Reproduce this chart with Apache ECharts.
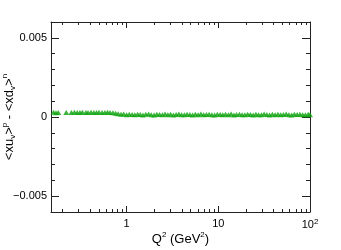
<!DOCTYPE html>
<html>
<head>
    <meta charset="utf-8">
    <title></title>
    <style type="text/css">
        html,
        body {
            height: 100%;
        }

        body {
            margin: 0;
            padding: 0;
            background: #fff;
        }

        #main {
            width: 341px;
            height: 250px;
        }
    </style>
</head>

<body>
    <div id="main"></div>
    <script src="https://cdn.jsdelivr.net/npm/echarts@6/dist/echarts.min.js"></script>
    <script type="text/javascript">
        // Q^2 (GeV^2) of each point
        var q2 = [
            0.16, 0.17, 0.18, 0.22, 0.25, 0.27, 0.29, 0.31, 0.33, 0.36,
            0.38, 0.41, 0.44, 0.47, 0.5, 0.54, 0.58, 0.62, 0.66, 0.71,
            0.76, 0.81, 0.87, 0.93, 1.0, 1.07, 1.15, 1.23, 1.32, 1.41,
            1.51, 1.62, 1.74, 1.86, 2.0, 2.14, 2.29, 2.46, 2.63, 2.82,
            3.02, 3.24, 3.47, 3.72, 3.98, 4.27, 4.57, 4.9, 5.25, 5.62,
            6.03, 6.46, 6.92, 7.41, 7.94, 8.51, 9.12, 9.77, 10.5, 11.2,
            12.0, 12.9, 13.8, 14.8, 15.8, 17.0, 18.2, 19.5, 20.9, 22.4,
            24.0, 25.7, 27.5, 29.5, 31.6, 33.9, 36.3, 38.9, 41.7, 44.7,
            47.9, 51.3, 55.0, 58.9, 63.1, 67.6, 72.4, 77.6, 83.2, 89.1,
            95.5, 100
        ];
        // <xu_v>^p - <xd_v>^n
        var diff = [
            0.00030, 0.00027, 0.00029, 0.00028, 0.00029, 0.00030, 0.00028, 0.00029, 0.00030, 0.00028,
            0.00029, 0.00030, 0.00028, 0.00029, 0.00030, 0.00028, 0.00029, 0.00030, 0.00028, 0.00027,
            0.00024, 0.00020, 0.00017, 0.00019, 0.00015, 0.00018, 0.00016, 0.00014, 0.00018, 0.00016,
            0.00013, 0.00017, 0.00019, 0.00015, 0.00013, 0.00018, 0.00016, 0.00014, 0.00019, 0.00015,
            0.00017, 0.00013, 0.00016, 0.00019, 0.00015, 0.00014, 0.00018, 0.00016, 0.00013, 0.00017,
            0.00015, 0.00019, 0.00014, 0.00016, 0.00018, 0.00015, 0.00013, 0.00017, 0.00016, 0.00014,
            0.00018, 0.00015, 0.00019, 0.00013, 0.00016, 0.00018, 0.00015, 0.00014, 0.00017, 0.00016,
            0.00013, 0.00018, 0.00015, 0.00014, 0.00019, 0.00016, 0.00013, 0.00017, 0.00015, 0.00018,
            0.00014, 0.00016, 0.00019, 0.00015, 0.00013, 0.00017, 0.00016, 0.00018, 0.00014, 0.00015,
            0.00017, 0.00015
        ];
        // axis ticks
        var xMajor = [1, 10, 100];
        var xMinor = [0.2, 0.3, 0.4, 0.5, 0.6, 0.7, 0.8, 0.9,
            2, 3, 4, 5, 6, 7, 8, 9,
            20, 30, 40, 50, 60, 70, 80, 90];
        var yMajor = [-0.005, 0, 0.005];
        var yMinor = [-0.004, -0.003, -0.002, -0.001, 0.001, 0.002, 0.003, 0.004];

        var FONT = 'Liberation Sans';
        var LINE = '#222';
        var points = q2.map(function (q, i) { return [q, diff[i]]; });

        function xAxisDef(pos, minor) {
            return {
                type: 'log',
                logBase: 10,
                position: pos,
                min: 0.15,
                max: 100,
                axisLine: { show: !minor, onZero: false, lineStyle: { color: LINE, width: 1 } },
                axisTick: {
                    show: true, inside: true, length: minor ? 3 : 6,
                    customValues: minor ? xMinor : xMajor,
                    lineStyle: { color: LINE, width: 1 }
                },
                axisLabel: {
                    show: pos === 'bottom' && !minor,
                    customValues: xMajor,
                    color: '#000', fontFamily: FONT, fontSize: 11, margin: 6,
                    formatter: function (v) {
                        var r = Math.round(v);
                        return r === 100 ? '10{sup|2}' : String(r);
                    },
                    rich: { sup: { fontSize: 8, verticalAlign: 'top', padding: [0, 0, 6, 0], color: '#000', fontFamily: FONT } }
                },
                splitLine: { show: false },
                name: (pos === 'bottom' && !minor) ? 'Q{sup|2} (GeV{sup|2})' : '',
                nameLocation: 'middle',
                nameGap: 19,
                nameMoveOverlap: false,
                nameTextStyle: {
                    color: '#000', fontFamily: FONT, fontSize: 13,
                    rich: { sup: { fontSize: 8, verticalAlign: 'top', padding: [0, 0, 8, 0], color: '#000', fontFamily: FONT } }
                }
            };
        }

        function yAxisDef(pos, minor) {
            return {
                type: 'value',
                position: pos,
                min: -0.006,
                max: 0.006,
                axisLine: { show: !minor, onZero: false, lineStyle: { color: LINE, width: 1 } },
                axisTick: {
                    show: true, inside: true, length: minor ? 4 : 8,
                    customValues: minor ? yMinor : yMajor,
                    lineStyle: { color: LINE, width: 1 }
                },
                axisLabel: {
                    show: pos === 'left' && !minor,
                    customValues: yMajor,
                    color: '#000', fontFamily: FONT, fontSize: 11, margin: 4,
                    formatter: function (v) {
                        if (Math.abs(v) < 1e-9) return '0';
                        return v < 0 ? '\u2212' + (-v).toFixed(3) : v.toFixed(3);
                    }
                },
                splitLine: { show: false },
                name: (pos === 'left' && !minor) ? '<xu{sub|v}>{sup|p} - <xd{sub|v}>{sup|n}' : '',
                nameLocation: 'middle',
                nameGap: 34,
                nameRotate: 90,
                nameMoveOverlap: false,
                nameTextStyle: {
                    color: '#000', fontFamily: FONT, fontSize: 13,
                    rich: {
                        sub: { fontSize: 8, verticalAlign: 'bottom', padding: [6, 0, 0, 0], color: '#000', fontFamily: FONT },
                        sup: { fontSize: 8, verticalAlign: 'top', padding: [0, 0, 8, 0], color: '#000', fontFamily: FONT }
                    }
                }
            };
        }

        var myChart = echarts.init(document.getElementById('main'), null, { renderer: 'canvas' });
        myChart.setOption({
            animation: false,
            backgroundColor: '#fff',
            grid: { left: 51, right: 31, top: 22, bottom: 38, containLabel: false, outerBoundsMode: 'none' },
            xAxis: [
                xAxisDef('bottom', false),
                xAxisDef('bottom', true),
                xAxisDef('top', false),
                xAxisDef('top', true)
            ],
            yAxis: [
                yAxisDef('left', false),
                yAxisDef('left', true),
                yAxisDef('right', false),
                yAxisDef('right', true)
            ],
            series: [{
                type: 'scatter',
                xAxisIndex: 0,
                yAxisIndex: 0,
                symbol: 'triangle',
                symbolSize: [6, 5],
                itemStyle: { color: '#0ca30c' },
                data: points
            }]
        });
    </script>
</body>
</html>
